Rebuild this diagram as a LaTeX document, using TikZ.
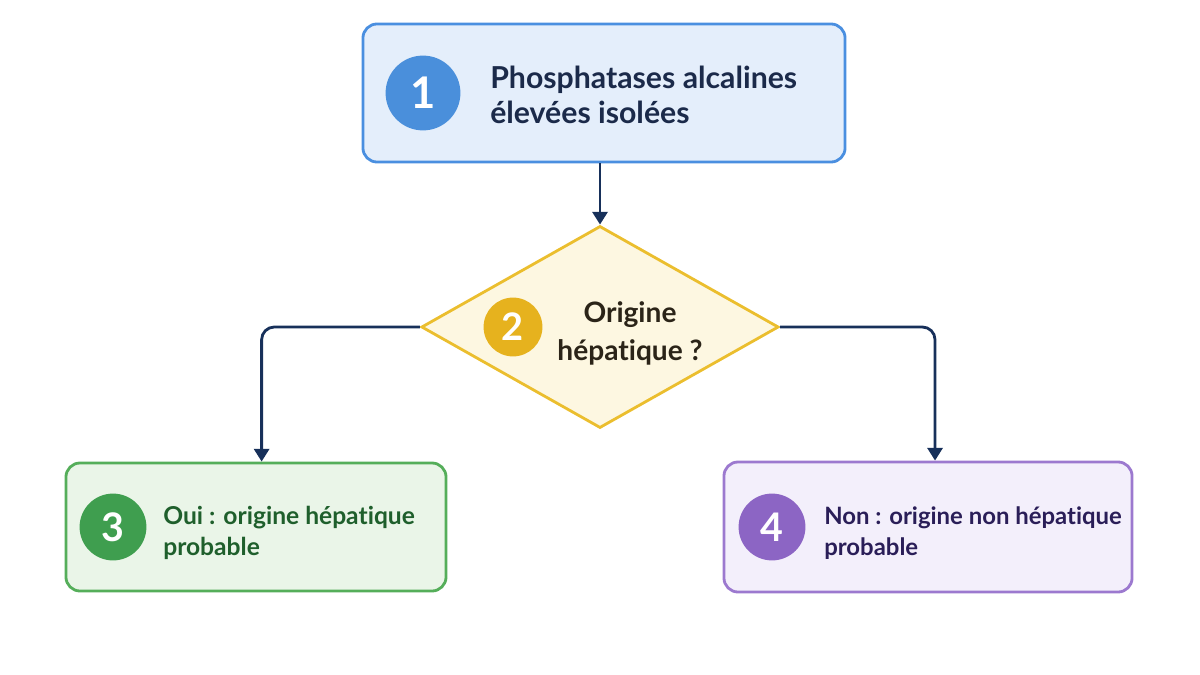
\documentclass[tikz,border=0pt]{standalone}
\usepackage{fontspec}
\setmainfont{Lato}[Ligatures=NoCommon]
\usepackage{xcolor}
\definecolor{cNavy}{HTML}{17305A}
\definecolor{cBlue}{HTML}{4A8FE0}
\definecolor{cBlueFill}{HTML}{E4EEFB}
\definecolor{cBlueDot}{HTML}{4A8FDB}
\definecolor{cBlueText}{HTML}{1B2A4A}
\definecolor{cGold}{HTML}{EBBE2E}
\definecolor{cGoldFill}{HTML}{FDF7E1}
\definecolor{cGoldDot}{HTML}{E6B21E}
\definecolor{cGoldText}{HTML}{2B2418}
\definecolor{cGreen}{HTML}{55AE5A}
\definecolor{cGreenFill}{HTML}{EAF5E8}
\definecolor{cGreenDot}{HTML}{3F9E4F}
\definecolor{cGreenText}{HTML}{1F5F2C}
\definecolor{cPurple}{HTML}{9C79CF}
\definecolor{cPurpleFill}{HTML}{F3EFFB}
\definecolor{cPurpleDot}{HTML}{8C65C4}
\definecolor{cPurpleText}{HTML}{2A1E58}
\usetikzlibrary{positioning,arrows.meta,shapes.geometric}
\tikzset{
  node-box/.style={draw,line width=2pt,rounded corners=10pt,inner sep=0pt},
  node-decision/.style={draw=cGold,fill=cGoldFill,line width=2pt,diamond,
    inner sep=0pt,minimum width=8.93cm,minimum height=5.05cm},
  node-num/.style={circle,inner sep=0pt,text=white,font=\fontsize{31}{31}\selectfont\bfseries},
  node-text/.style={anchor=west,inner sep=0pt,align=left},
  arrow/.style={-{Triangle[length=3.2mm,width=3.8mm]},line width=2pt,draw=cNavy,
    rounded corners=9pt},
}

\begin{document}
\begin{tikzpicture}[x=0.025cm,y=-0.025cm]
  \useasboundingbox (0,0) rectangle (1200,675);
  % boxes
  \node[node-box,draw=cBlue,fill=cBlueFill,minimum width=12.05cm,minimum height=3.45cm] (b1) at (604,93) {};
  \node[node-decision] (d2) at (600,327) {};
  \node[node-box,draw=cGreen,fill=cGreenFill,minimum width=9.5cm,minimum height=3.2cm] (b3) at (256,527) {};
  \node[node-box,draw=cPurple,fill=cPurpleFill,minimum width=10.2cm,minimum height=3.25cm] (b4) at (928,527) {};
  % numbers
  \node[node-num,fill=cBlueDot,minimum size=1.87cm] (n1) at (423,93) {1};
  \node[node-num,fill=cGoldDot,minimum size=1.47cm,font=\fontsize{27}{27}\selectfont\bfseries] (n2) at (513,327) {2};
  \node[node-num,fill=cGreenDot,minimum size=1.67cm,font=\fontsize{28}{28}\selectfont\bfseries] (n3) at (113,527) {3};
  \node[node-num,fill=cPurpleDot,minimum size=1.67cm,font=\fontsize{28}{28}\selectfont\bfseries] (n4) at (772,527) {4};
  % labels
  \node[node-text,text=cBlueText,font=\fontsize{21.5}{25}\selectfont\bfseries] (t1) at (490,95)
    {Phosphatases alcalines\\élevées isolées};
  \node[inner sep=0pt,align=center,text=cGoldText,font=\fontsize{20}{27}\selectfont\bfseries] (t2) at (630,333)
    {Origine\\hépatique ?};
  \node[node-text,text=cGreenText,font=\fontsize{17.5}{22.5}\selectfont\bfseries] (t3) at (163,533)
    {Oui : origine hépatique\\probable};
  \node[node-text,text=cPurpleText,font=\fontsize{17}{22.5}\selectfont\bfseries] (t4) at (824,533)
    {Non : origine non hépatique\\probable};
  % connectors
  \draw[arrow] (b1.south -| d2.north) -- (d2.north);
  \draw[arrow] (d2.west) -| ([xshift=4pt]b3.north);
  \draw[arrow] (d2.east) -| ([xshift=5pt]b4.north);
\end{tikzpicture}
\end{document}
